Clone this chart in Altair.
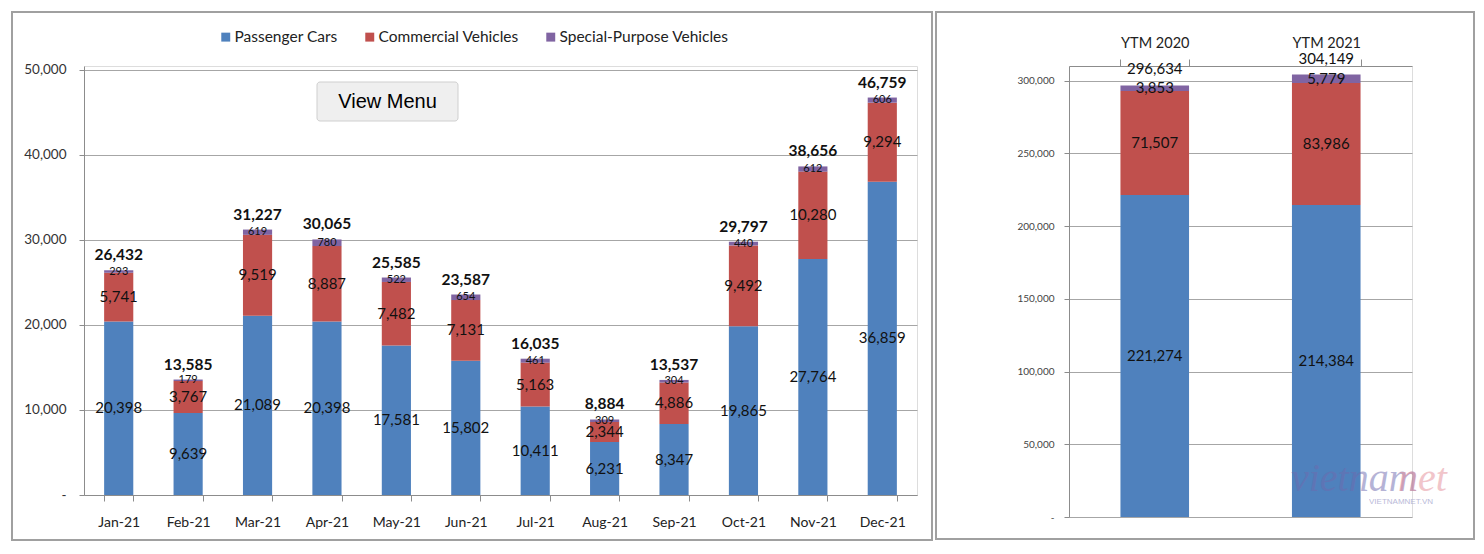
import altair as alt
import pandas as pd

FONT = "Lato"

# ---- data ----
months = ["Jan-21", "Feb-21", "Mar-21", "Apr-21", "May-21", "Jun-21",
          "Jul-21", "Aug-21", "Sep-21", "Oct-21", "Nov-21", "Dec-21"]
passenger = [20398, 9639, 21089, 20398, 17581, 15802, 10411, 6231, 8347, 19865, 27764, 36859]
commercial = [5741, 3767, 9519, 8887, 7482, 7131, 5163, 2344, 4886, 9492, 10280, 9294]
special = [293, 179, 619, 780, 522, 654, 461, 309, 304, 440, 612, 606]
totals = [26432, 13585, 31227, 30065, 25585, 23587, 16035, 8884, 13537, 29797, 38656, 46759]

ytm_labels = ["YTM 2020", "YTM 2021"]
ytm_passenger = [221274, 214384]
ytm_commercial = [71507, 83986]
ytm_special = [3853, 5779]
ytm_totals = [296634, 304149]

series = ["Passenger Cars", "Commercial Vehicles", "Special-Purpose Vehicles"]
colors = ["#4F81BD", "#C0504D", "#8064A2"]


def long_frame(cats, cols):
    rows = []
    for i, c in enumerate(cats):
        for k, (s, vals) in enumerate(zip(series, cols)):
            rows.append({"cat": c, "series": s, "value": vals[i], "ord": k})
    return pd.DataFrame(rows)


left_df = long_frame(months, [passenger, commercial, special])
left_tot = pd.DataFrame({"cat": months, "total": totals})
right_df = long_frame(ytm_labels, [ytm_passenger, ytm_commercial, ytm_special])
right_tot = pd.DataFrame({"cat": ytm_labels, "total": ytm_totals})
one = pd.DataFrame({"k": [0]})

color_scale = alt.Scale(domain=series, range=colors)
GRID = "#A6A6A6"
AX = "#8C8C8C"

# ================= LEFT PANEL =================
xL = alt.X("cat:N", sort=months,
           scale=alt.Scale(paddingInner=0.58, paddingOuter=0.29),
           axis=alt.Axis(title=None, labelAngle=0, labelFont=FONT, labelFontSize=14,
                         labelColor="#222", labelPadding=14, tickBand="extent",
                         tickSize=6, tickColor=AX, domainColor=AX, grid=False))
yScaleL = alt.Scale(domain=[0, 50470], nice=False)
yAxisL = alt.Axis(title=None, values=[0, 10000, 20000, 30000, 40000, 50000],
                  labelExpr="datum.value == 0 ? '-\u00a0\u00a0\u00a0' : format(datum.value, ',')",
                  labelFont=FONT, labelFontSize=13.5, labelColor="#333", labelPadding=13,
                  tickSize=5, tickColor=AX, domainColor=AX, gridColor=GRID)

stackedL = alt.Chart(left_df).transform_stack(
    stack="value", groupby=["cat"], sort=[alt.SortField("ord")], as_=["v0", "v1"]
).transform_calculate(mid="(datum.v0 + datum.v1) / 2")

barsL = stackedL.mark_bar().encode(
    x=xL,
    y=alt.Y("v0:Q", scale=yScaleL, axis=yAxisL),
    y2="v1:Q",
    color=alt.Color("series:N", scale=color_scale,
                    legend=alt.Legend(orient="none", legendX=134, legendY=-37,
                                      direction="horizontal", title=None,
                                      symbolType="square", symbolSize=80,
                                      symbolStrokeWidth=0, labelFont=FONT,
                                      labelFontSize=15.5, labelColor="#222",
                                      labelLimit=400, columnPadding=24, labelOffset=1)),
    order=alt.Order("ord:Q"),
)
labBigL = stackedL.transform_filter("datum.ord < 2").mark_text(
    font=FONT, fontSize=15, color="#111", baseline="middle"
).encode(x=alt.X("cat:N", sort=months), y=alt.Y("mid:Q", scale=yScaleL),
         text=alt.Text("value:Q", format=","))
labSmallL = stackedL.transform_filter("datum.ord == 2").mark_text(
    font=FONT, fontSize=11, color="#111", baseline="middle"
).encode(x=alt.X("cat:N", sort=months), y=alt.Y("mid:Q", scale=yScaleL),
         text=alt.Text("value:Q", format=","))
totL = alt.Chart(left_tot).mark_text(
    font=FONT, fontSize=15.5, fontWeight="bold", color="#111", baseline="bottom", dy=-7
).encode(x=alt.X("cat:N", sort=months), y=alt.Y("total:Q", scale=yScaleL),
         text=alt.Text("total:Q", format=","))

borderL = alt.Chart(one).mark_rect(fillOpacity=0, stroke="#A0A0A0", strokeWidth=2).encode(
    x=alt.value(-72), x2=alt.value(848), y=alt.value(-54), y2=alt.value(474))
btn = alt.Chart(one).mark_rect(fill="#EFEFEF", stroke="#CFCFCF", strokeWidth=1,
                               cornerRadius=3).encode(
    x=alt.value(233), x2=alt.value(374), y=alt.value(16), y2=alt.value(55))
btnText = alt.Chart(pd.DataFrame({"t": ["View Menu"]})).mark_text(
    font="Liberation Sans", fontSize=20, color="#000", align="center", baseline="middle"
).encode(x=alt.value(303.5), y=alt.value(35.5), text="t:N")

left = alt.layer(barsL, labBigL, labSmallL, totL, borderL, btn, btnText).properties(
    width=833, height=429)

# ================= RIGHT PANEL =================
xR = alt.X("cat:N", sort=ytm_labels,
           scale=alt.Scale(paddingInner=0.6, paddingOuter=0.3),
           axis=alt.Axis(title=None, orient="top", labelAngle=0, labelFont=FONT,
                         labelFontSize=14.5, labelColor="#222", labelPadding=9,
                         tickBand="extent", tickSize=7, tickColor=AX,
                         domainColor=AX, grid=False))
yScaleR = alt.Scale(domain=[0, 310000], nice=False)
yAxisR = alt.Axis(title=None, values=[0, 50000, 100000, 150000, 200000, 250000, 300000],
                  labelExpr="datum.value == 0 ? '-\u00a0\u00a0\u00a0' : format(datum.value, ',')",
                  labelFont=FONT, labelFontSize=10, labelColor="#444", labelPadding=10,
                  tickSize=5, tickColor=AX, domainColor=AX, gridColor=GRID)

stackedR = alt.Chart(right_df).transform_stack(
    stack="value", groupby=["cat"], sort=[alt.SortField("ord")], as_=["v0", "v1"]
).transform_calculate(mid="(datum.v0 + datum.v1) / 2")

barsR = stackedR.mark_bar().encode(
    x=xR,
    y=alt.Y("v0:Q", scale=yScaleR, axis=yAxisR),
    y2="v1:Q",
    color=alt.Color("series:N", scale=color_scale, legend=None),
    order=alt.Order("ord:Q"),
)
labR = stackedR.mark_text(font=FONT, fontSize=15, color="#111", baseline="middle").encode(
    x=alt.X("cat:N", sort=ytm_labels), y=alt.Y("mid:Q", scale=yScaleR),
    text=alt.Text("value:Q", format=","))
totR = alt.Chart(right_tot).mark_text(
    font=FONT, fontSize=15, color="#111", baseline="bottom", dy=-8
).encode(x=alt.X("cat:N", sort=ytm_labels), y=alt.Y("total:Q", scale=yScaleR),
         text=alt.Text("total:Q", format=","))

borderR = alt.Chart(one).mark_rect(fillOpacity=0, stroke="#A0A0A0", strokeWidth=2).encode(
    x=alt.value(-133), x2=alt.value(405), y=alt.value(-54), y2=alt.value(473))

wm1 = alt.Chart(pd.DataFrame({"t": ["vietnam"]})).mark_text(
    font="Liberation Serif", fontSize=40, fontStyle="italic", color="#6E6AAE",
    opacity=0.5, align="left", baseline="alphabetic"
).encode(x=alt.value(222), y=alt.value(425), text="t:N")
wm2 = alt.Chart(pd.DataFrame({"t": ["net"]})).mark_text(
    font="Liberation Serif", fontSize=40, fontStyle="italic", color="#E58C96",
    opacity=0.5, align="left", baseline="alphabetic"
).encode(x=alt.value(329), y=alt.value(425), text="t:N")
wm3 = alt.Chart(pd.DataFrame({"t": ["VIETNAMNET.VN"]})).mark_text(
    font="Liberation Sans", fontSize=8, color="#A9A9CF", opacity=0.8,
    align="left", baseline="middle"
).encode(x=alt.value(300), y=alt.value(436), text="t:N")

right = alt.layer(barsR, labR, totR, borderR, wm1, wm2, wm3).properties(
    width=343, height=451)

chart = alt.hconcat(left, right, spacing=0).resolve_scale(color="independent").properties(
    padding={"left": 2, "top": 2, "right": 0, "bottom": 0}
).configure_view(stroke=None).configure(font=FONT, background="white")

chart.save("out.html", embed_options={"renderer": "svg", "actions": False})
